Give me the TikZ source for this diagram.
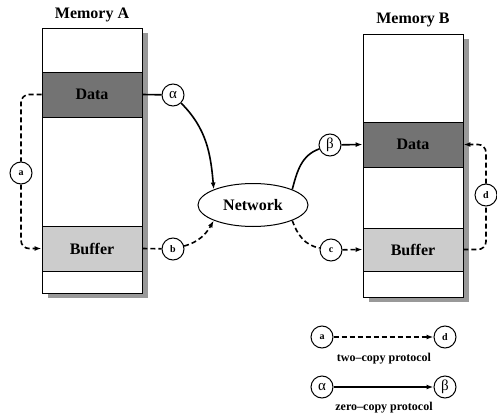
\documentclass[tikz,border=0pt]{standalone}
\usepackage{fontspec}
\setmainfont{Liberation Serif}
\usetikzlibrary{shapes.geometric, shadows, arrows.meta}
\definecolor{mydatagray}{gray}{.45}
\definecolor{mybuffergray}{gray}{.8}
\definecolor{myshadowgray}{gray}{.6}
\newcommand{\widthmem}{100pt}
\newcommand{\heightband}{45pt}
\newcommand{\bigbold}{\bfseries\fontsize{16}{16}\selectfont}
\tikzset{
    common/.style={draw, rectangle, line width=0.9pt, minimum width=\widthmem, inner sep=0pt, font=\bigbold},
    memory/.style={common, fill=white, general shadow={fill=myshadowgray, shadow xshift=6pt, shadow yshift=-5pt}},
    band/.style={common, minimum height=\heightband},
    memtitle/.style={font=\bigbold},
    tag/.style={draw, circle, fill=white, minimum size=22pt, inner sep=0pt, line width=1pt, font=\bfseries\fontsize{10}{10}\selectfont},
    greektag/.style={tag, font=\fontsize{15}{15}\selectfont},
    flow/.style={line width=1.6pt},
    twocopy/.style={flow, dash pattern=on 5pt off 3pt},
    arrowed/.style={-{Latex[length=7pt, width=5pt]}},
    legendtext/.style={font=\bfseries\fontsize{12}{12}\selectfont}
}
\begin{document}
\begin{tikzpicture}[x=1pt, y=-1pt]
        \useasboundingbox (0,0) rectangle (497,414);

        \node[memtitle] (titleA) at (92,15) {Memory A};
        \node[memory, minimum height=265pt] (memA) at (92,160.5) {};
        \node[band, fill=mydatagray] (dataA) at (92,94.5) {Data};
        \node[band, fill=mybuffergray] (bufA) at (92,248.5) {Buffer};

        \node[memtitle] (titleB) at (413,20) {Memory B};
        \node[memory, minimum height=263pt] (memB) at (413,165.5) {};
        \node[band, fill=mydatagray] (dataB) at (413,144.5) {Data};
        \node[band, fill=mybuffergray, minimum height=43pt] (bufB) at (413,249.5) {Buffer};

        \node[draw, ellipse, line width=1pt, minimum width=110pt, minimum height=43pt, font=\bigbold] (net) at (253,205) {Network};

        \node[greektag] (alpha) at (173,95) {α};
        \node[greektag] (beta) at (330,145) {β};
        \node[tag] (a) at (21,173) {a};
        \node[tag] (b) at (173,249) {b};
        \node[tag] (c) at (331,250) {c};
        \node[tag] (d) at (486,195) {d};

        \draw[flow] (dataA.east) -- (alpha);
        \draw[flow, arrowed] (alpha) to[out=-45, in=95] (net.north west);
        \draw[flow] (net.north east) to[out=75, in=200] (beta);
        \draw[flow, arrowed] (beta) -- (dataB.west);

        \draw[twocopy, rounded corners=8pt] (dataA.west) -| (a);
        \draw[twocopy, arrowed, rounded corners=8pt] (a) |- (bufA.west);
        \draw[twocopy] (bufA.east) -- (b);
        \draw[twocopy, arrowed] (b) to[out=15, in=-120] (net.south west);
        \draw[twocopy] (net.south east) to[out=-70, in=170] (c);
        \draw[twocopy, arrowed] (c) -- (bufB.west);
        \draw[twocopy, rounded corners=8pt] (bufB.east) -| (d);
        \draw[twocopy, arrowed, rounded corners=8pt] (d) |- (dataB.east);

        \node[tag] (keya) at (322,337) {a};
        \node[tag] (keyd) at (445,337) {d};
        \node[legendtext] (keytwo) at (384,359) {two–copy protocol};
        \node[greektag] (keyalpha) at (322,387) {α};
        \node[greektag] (keybeta) at (445,387) {β};
        \node[legendtext] (keyzero) at (384,408) {zero–copy protocol};
        \draw[twocopy, arrowed] (keya) -- (keyd);
        \draw[flow, arrowed] (keyalpha) -- (keybeta);
    \end{tikzpicture}
\end{document}
